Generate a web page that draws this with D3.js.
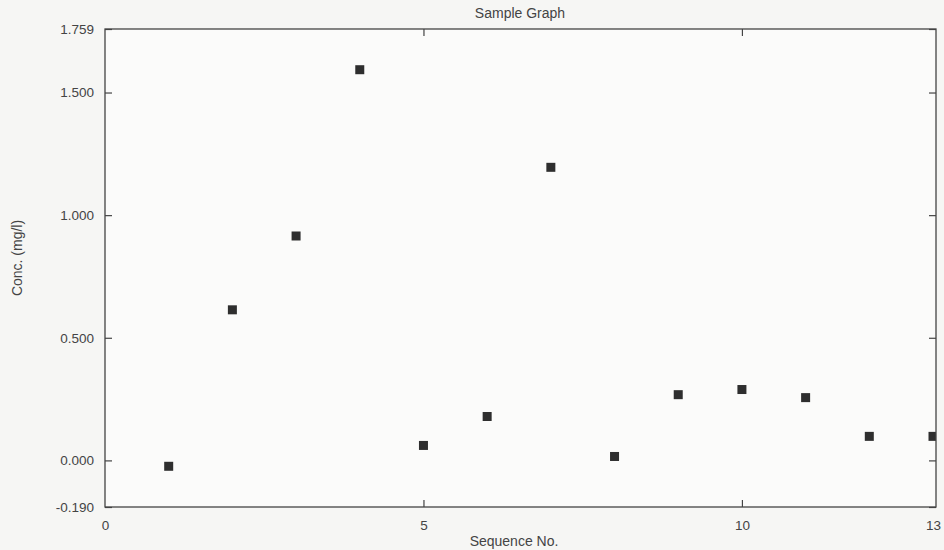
<!DOCTYPE html>
<html lang="en">
<head>
    <meta charset="UTF-8">
    <title>Sample Graph</title>
    <style>
        body { margin: 0; background: #f6f6f4; }
        text { font-family: "Liberation Sans", Arial, sans-serif; fill: #444; }
    </style>
</head>
<body>
    <svg id="chart"></svg>
    <script src="https://cdn.jsdelivr.net/npm/d3@7"></script>
    <script>
        // 数据
        const sequence = [1, 2, 3, 4, 5, 6, 7, 8, 9, 10, 11, 12, 13];
        const conc = [-0.024, 0.614, 0.915, 1.593, 0.061, 0.179, 1.195, 0.016, 0.268, 0.289, 0.256, 0.098, 0.098];
        const xTicks = [0, 5, 10, 13];
        const yTicks = [-0.19, 0, 0.5, 1.0, 1.5, 1.759];

        const width = 944, height = 550;
        const margin = { top: 29, right: 8, bottom: 43, left: 105 };
        const innerW = width - margin.left - margin.right;
        const innerH = height - margin.top - margin.bottom;

        const svg = d3.select("#chart").attr("width", width).attr("height", height);
        const g = svg.append("g").attr("transform", "translate(" + margin.left + "," + margin.top + ")");

        const x = d3.scaleLinear().domain([0, 13]).range([0, innerW - 3]);
        const y = d3.scaleLinear().domain([-0.19, 1.759]).range([innerH, 0]);

        g.append("rect").attr("width", innerW).attr("height", innerH).attr("fill", "#fbfbfa");

        // 点（裁剪在绘图区内）
        svg.append("clipPath").attr("id", "clip")
            .append("rect").attr("width", innerW).attr("height", innerH);
        const s = 9;
        g.append("g").attr("clip-path", "url(#clip)")
            .selectAll("rect")
            .data(sequence)
            .enter().append("rect")
            .attr("x", (d) => x(d) - s / 2)
            .attr("y", (d, i) => y(conc[i]) - s / 2)
            .attr("width", s).attr("height", s)
            .attr("fill", "#2e2e2e");

        // 坐标轴
        const fmt = (d) => d3.format(".3f")(d).replace("\u2212", "-");
        const innerX = (d) => d > 0 && d < 13;
        const styleAxis = (sel) => {
            sel.select(".domain").remove();
            sel.selectAll("line").attr("stroke", "#444").attr("stroke-width", 1.2);
            sel.selectAll("text").style("font-size", "13.5px").style("fill", "#444");
        };
        g.append("g").call(d3.axisLeft(y).tickValues(yTicks).tickFormat(fmt).tickSizeInner(-7).tickPadding(11))
            .call(styleAxis);
        g.append("g").attr("transform", "translate(" + innerW + ",0)")
            .call(d3.axisRight(y).tickValues(yTicks).tickFormat("").tickSizeInner(-7))
            .call(styleAxis);
        const bottom = g.append("g").attr("transform", "translate(0," + innerH + ")")
            .call(d3.axisBottom(x).tickValues(xTicks).tickFormat(d3.format("d")).tickSizeInner(-7).tickPadding(13))
            .call(styleAxis);
        bottom.selectAll(".tick line").filter((d) => !innerX(d)).remove();
        g.append("g")
            .call(d3.axisTop(x).tickValues(xTicks.filter(innerX)).tickFormat("").tickSizeInner(-7))
            .call(styleAxis);

        // 边框
        g.append("rect").attr("width", innerW).attr("height", innerH)
            .attr("fill", "none").attr("stroke", "#444").attr("stroke-width", 1.3);

        // 标题与轴标签
        svg.append("text").attr("x", 520).attr("y", 18)
            .attr("text-anchor", "middle").style("font-size", "14px").text("Sample Graph");
        svg.append("text").attr("x", 514).attr("y", height - 4)
            .attr("text-anchor", "middle").style("font-size", "14px").text("Sequence No.");
        svg.append("text").attr("transform", "translate(22," + 258 + ") rotate(-90)")
            .attr("text-anchor", "middle").style("font-size", "14px").text("Conc. (mg/l)");
    </script>
</body>
</html>
